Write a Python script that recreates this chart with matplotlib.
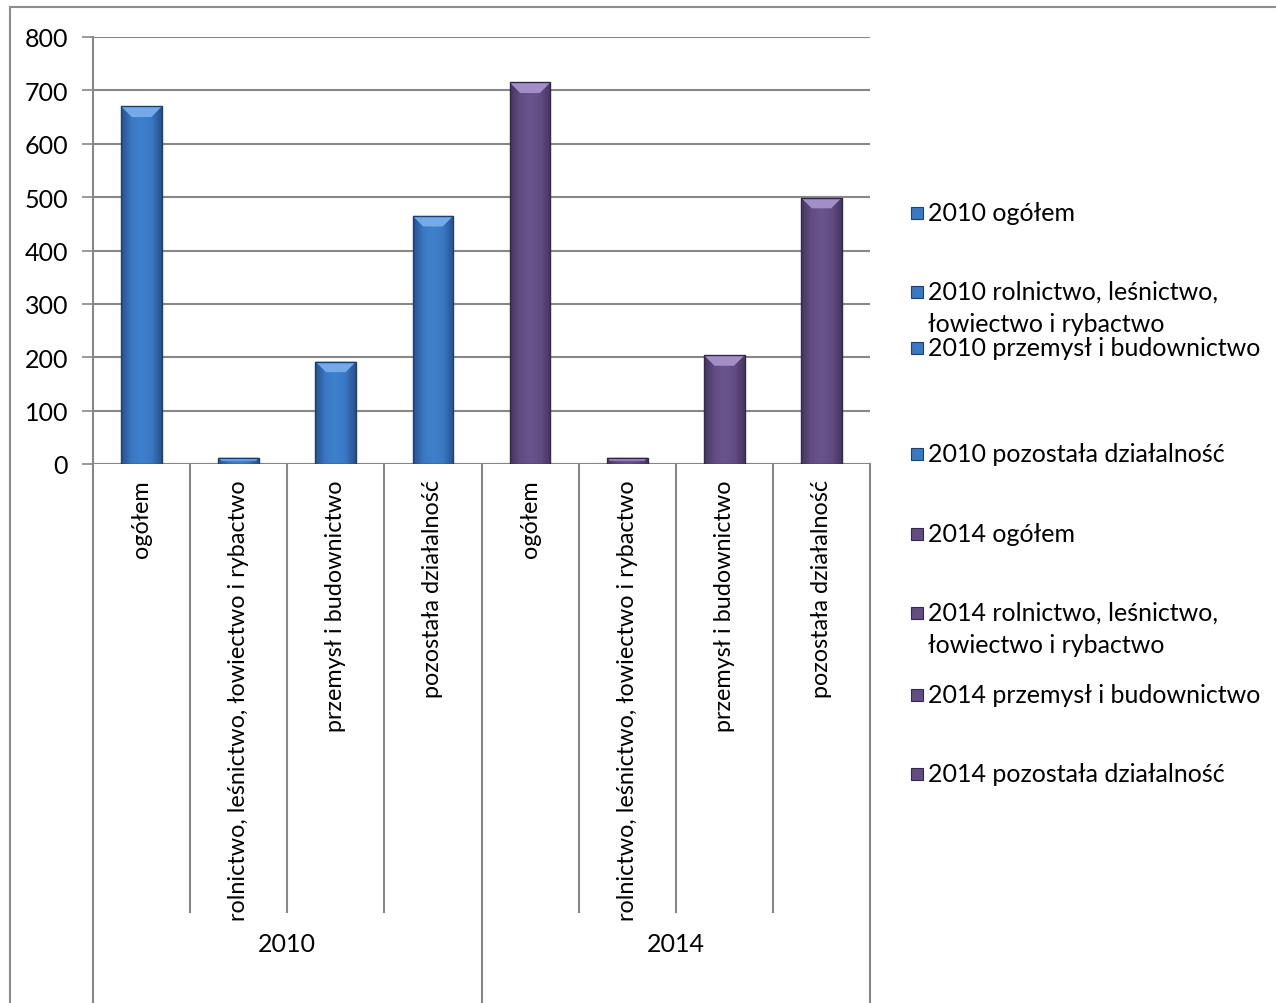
import matplotlib
matplotlib.use('Agg')
import matplotlib.pyplot as plt
import numpy as np
from matplotlib.patches import Rectangle, Polygon
from matplotlib.lines import Line2D
from matplotlib.colors import LinearSegmentedColormap

# data
years = ['2010', '2014']
categories = ['ogółem', 'rolnictwo, leśnictwo, łowiectwo i rybactwo',
              'przemysł i budownictwo', 'pozostała działalność']
values_2010 = [670, 12, 192, 465]
values_2014 = [715, 12, 204, 499]
legend_labels = ['2010 ogółem', '2010 rolnictwo, leśnictwo,\nłowiectwo i rybactwo',
                 '2010 przemysł i budownictwo', '2010 pozostała działalność',
                 '2014 ogółem', '2014 rolnictwo, leśnictwo,\nłowiectwo i rybactwo',
                 '2014 przemysł i budownictwo', '2014 pozostała działalność']

plt.rcParams['font.family'] = ['Lato', 'DejaVu Sans']
FS_AX = 16.8
FS_LEG = 18

W, H = 1276, 1004
fig = plt.figure(figsize=(W / 100, H / 100), dpi=100)
ax = fig.add_axes([93 / W, 1 - 465 / H, (870 - 93) / W, (465 - 38) / H])

blue = ['#26518a', '#3a78c4', '#3f80cc', '#3a78c4', '#26518a']
blue_edge = '#1f406b'
blue_top = '#74aaea'
purple = ['#46365f', '#624d83', '#6a548c', '#624d83', '#46365f']
purple_edge = '#33274a'
purple_top = '#a28fc6'

n = len(categories)
x10 = list(range(n))
x14 = [i + n for i in range(n)]
bw = 0.42
bev = 20       # bevel height in data units
bev_x = 0.11   # bevel inset in x data units


def shade_bars(bars, colors, edge, top):
    cmap = LinearSegmentedColormap.from_list('g', colors)
    grad = np.linspace(0, 1, 64).reshape(1, -1)
    for p in bars:
        x0, y0 = p.get_x(), p.get_y()
        w, h = p.get_width(), p.get_height()
        p.set_facecolor('none')
        im = ax.imshow(grad, cmap=cmap, extent=[x0, x0 + w, y0, y0 + h],
                       aspect='auto', origin='lower', zorder=3, interpolation='bicubic')
        im.set_clip_path(p)
        b = min(bev, h / 2)
        bi = min(bev_x, bev_x * b / bev)
        ax.add_patch(Polygon([[x0, y0 + h], [x0 + w, y0 + h],
                              [x0 + w - bi, y0 + h - b], [x0 + bi, y0 + h - b]],
                             closed=True, facecolor=top, edgecolor='none', zorder=4))
        p.set_edgecolor(edge)
        p.set_zorder(5)


b10 = ax.bar(x10, values_2010, width=bw, linewidth=1.0)
b14 = ax.bar(x14, values_2014, width=bw, linewidth=1.0)
shade_bars(b10, blue, blue_edge, blue_top)
shade_bars(b14, purple, purple_edge, purple_top)

ax.set_xlim(-0.5, 2 * n - 0.5)
ax.set_ylim(0, 800)
ax.set_yticks(range(0, 801, 100))
ax.yaxis.grid(True, color='#878787', linewidth=1.5, zorder=0)
ax.set_axisbelow(True)
ax.tick_params(axis='y', labelsize=FS_LEG, length=8, width=1.2, color='#878787', pad=10)
ax.set_xticks([])
for s in ['top', 'right', 'bottom']:
    ax.spines[s].set_visible(False)
ax.spines['left'].set_color('#878787')
ax.spines['left'].set_linewidth(1.5)
ax.axhline(0, color='#878787', linewidth=1.5, zorder=2)

# two-level category axis
trans = ax.get_xaxis_transform()
ppy = 465 - 38
y_short = -(913 - 465) / ppy
y_long = -(1010 - 465) / ppy
for k in range(2 * n + 1):
    xb = k - 0.5
    yb = y_long if k % n == 0 else y_short
    ax.add_line(Line2D([xb, xb], [0, yb], transform=trans, color='#878787',
                       linewidth=1.5, clip_on=False))
for i, c in enumerate(categories * 2):
    ax.text(i, -(480 - 465) / ppy, c, transform=trans, rotation=90,
            ha='center', va='top', fontsize=FS_AX)
for g, yr in enumerate(years):
    ax.text(g * n + (n - 1) / 2, -(945 - 465) / ppy, yr, transform=trans,
            ha='center', va='center', fontsize=FS_LEG)

# legend drawn by hand to keep Excel's uneven spacing
leg_y = [214, 293, 349, 455, 535, 614, 696, 775]
for j, lab in enumerate(legend_labels):
    fc = blue[1] if j < 4 else purple[1]
    ec = blue_edge if j < 4 else purple_edge
    yy = 1 - leg_y[j] / H
    fig.patches.append(Rectangle((911 / W, yy - 6 / H), 12 / W, 12 / H,
                                 facecolor=fc, edgecolor=ec, linewidth=0.8,
                                 transform=fig.transFigure))
    fig.text(928 / W, yy + 12 / H, lab, ha='left', va='top', fontsize=FS_LEG,
             linespacing=1.45)

# chart area border
fig.add_artist(Line2D([10 / W, 10 / W], [0, 1 - 8 / H], transform=fig.transFigure,
                      color='#8c8c8c', linewidth=1.5))
fig.add_artist(Line2D([10 / W, 1], [1 - 8 / H, 1 - 8 / H], transform=fig.transFigure,
                      color='#8c8c8c', linewidth=1.5))

fig.savefig('out.png', dpi=100)
